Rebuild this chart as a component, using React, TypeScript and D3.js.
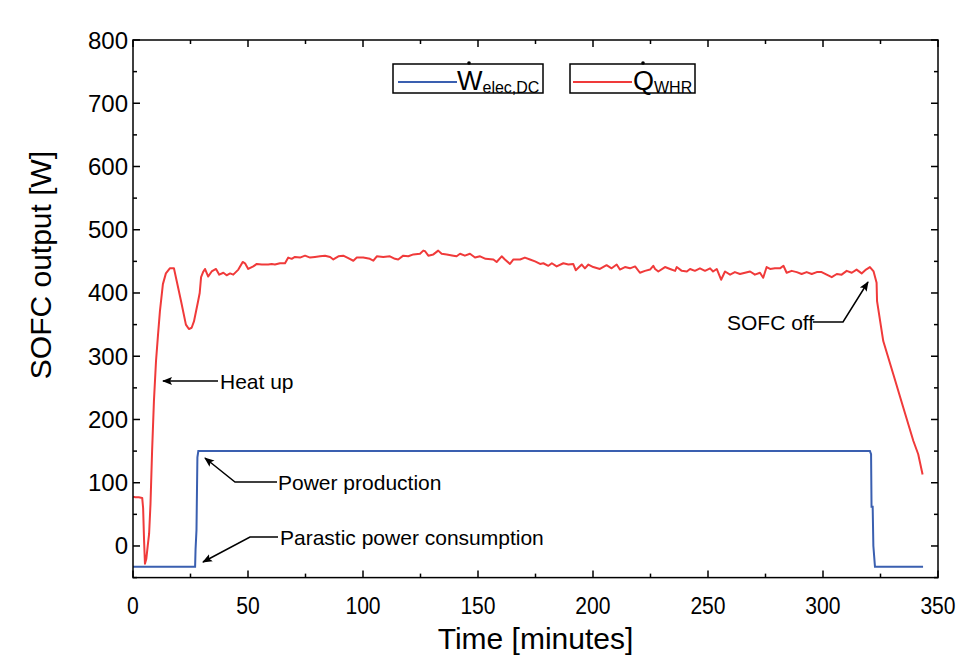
import React from 'react';
import * as d3 from 'd3';

// time [min], W
const qWhr: [number, number][] = [
  [0, 78], [1, 77], [2.5, 77], [4, 76], [4.4, 60], [4.8, 10], [5.2, -28], [5.8, -20], [6.4, 0],
  [7, 19], [7.6, 66], [8.3, 150], [9.1, 229], [10, 292], [10.9, 335], [11.7, 371], [13, 414],
  [14.3, 431], [16, 439], [17.8, 439], [19, 419], [20.9, 387], [23, 350], [24.3, 343], [25.5, 345],
  [26.5, 355], [28.3, 387], [29, 400], [29.6, 425], [30.6, 434], [31.3, 438], [32.7, 426], [34.2, 434],
  [36.1, 438], [37.5, 429], [39.3, 432], [40.7, 428], [42.2, 431], [43.6, 429], [45.8, 437], [47.7, 449],
  [48.7, 447], [50.1, 438], [52.3, 442], [53.8, 446], [56, 445], [58.8, 445], [60.3, 446], [61.7, 445],
  [63.9, 447], [66.1, 447], [67.5, 456], [69, 454], [70.4, 457], [72.6, 456], [74.8, 459], [77, 456],
  [79.1, 457], [81.3, 458], [83.5, 459], [85.7, 457], [87.1, 453], [89.3, 458], [91.4, 459], [93.6, 455],
  [95.8, 451], [97.3, 456], [100.1, 456], [103, 454], [104.5, 451], [106, 458], [108.8, 457], [111.7, 458],
  [113.9, 454], [115.3, 453], [117.5, 459], [119.7, 458], [121.9, 461], [124.8, 462], [126.2, 467],
  [127, 466], [128.4, 459], [130.6, 461], [132.7, 467], [134.2, 462], [136.4, 461], [139.3, 459],
  [140.7, 458], [142.2, 462], [144.3, 459], [146.5, 462], [148.7, 456], [150.9, 458], [153.3, 454],
  [156.7, 453], [158.1, 449], [160.3, 458], [161.7, 453], [163.9, 446], [165.4, 453], [168.3, 453],
  [170.4, 456], [172.6, 453], [174.8, 450], [177, 446], [178.4, 447], [180.6, 443], [182.1, 447],
  [184.2, 442], [187.1, 447], [189.3, 445], [191.4, 446], [192.5, 436], [195.1, 445], [196.5, 439],
  [198, 445], [200.1, 441], [203, 438], [205.9, 444], [208.1, 439], [210.3, 445], [211.7, 437],
  [213.9, 441], [216.1, 439], [218.3, 442], [220.4, 432], [222.6, 435], [224.8, 437], [226.2, 443],
  [227, 438], [228.4, 434], [231.3, 441], [233.5, 438], [235.7, 435], [236.4, 441], [238.6, 435],
  [240.8, 434], [242.2, 438], [244.3, 435], [246.5, 439], [248.7, 435], [250.9, 439], [252.2, 434],
  [253.8, 438], [255.7, 421], [257.4, 434], [259.6, 429], [261.7, 433], [263.9, 430], [266.1, 432],
  [268.3, 434], [270.4, 429], [272.6, 432], [274, 424], [275.5, 441], [277, 438], [279.1, 439],
  [281.3, 439], [282.8, 443], [284.2, 432], [286.4, 435], [288.6, 433], [290.7, 430], [292.9, 433],
  [295.1, 430], [297.3, 433], [299.4, 433], [301.6, 429], [303.8, 425], [306, 430], [308.1, 429],
  [310.3, 435], [312.5, 432], [314.6, 437], [316.8, 431], [318.7, 437], [320.4, 441], [322, 434],
  [323.3, 416], [323.5, 387], [326.2, 324], [330.6, 271], [334.9, 219], [339.3, 166], [341.4, 145],
  [343.3, 113],
];

const wElec: [number, number][] = [
  [0, -33], [27, -33], [27.2, -5], [27.6, 25], [28.0, 140], [28.4, 150], [320.4, 150], [320.9, 145],
  [321.1, 62], [321.6, 62], [321.9, 0], [322.6, -33], [343.5, -33],
];

const xMajor = [0, 50, 100, 150, 200, 250, 300, 350];
const xMinor = [25, 75, 125, 175, 225, 275, 325];
const yMajor = [0, 100, 200, 300, 400, 500, 600, 700, 800];
const yMinor = [-50, 50, 150, 250, 350, 450, 550, 650, 750];

const FONT = '"Liberation Sans", Arial, sans-serif';
const BLUE = '#3a5fb0';
const RED = '#f03a3a';

export default function App() {
  const W = 958, H = 655;
  const left = 133, right = 938, top = 40, bottom = 577.6;
  const x = d3.scaleLinear().domain([0, 350]).range([left, right]);
  const y = d3.scaleLinear().domain([-50, 800]).range([bottom, top]);
  const line = d3.line<[number, number]>().x(d => x(d[0])).y(d => y(d[1]));

  const arrow = (pts: [number, number][], key: string) => (
    <polyline key={key} points={pts.map(p => p.join(',')).join(' ')} fill="none" stroke="#000" strokeWidth={1.5} markerEnd="url(#ah)" />
  );

  return (
    <svg width={W} height={H} style={{ position: 'absolute', left: 0, top: 0, background: '#fff' }} fontFamily={FONT}>
      <defs>
        <marker id="ah" viewBox="0 0 10 10" refX="9" refY="5" markerWidth="10" markerHeight="10" orient="auto" markerUnits="userSpaceOnUse">
          <path d="M0,1 L10,5 L0,9 L2,5 Z" fill="#000" />
        </marker>
      </defs>
      <rect x={0} y={0} width={W} height={H} fill="#fff" />

      {/* curves */}
      <path d={line(qWhr) || ''} fill="none" stroke={RED} strokeWidth={2} strokeLinejoin="round" />
      <path d={line(wElec) || ''} fill="none" stroke={BLUE} strokeWidth={2} />

      {/* frame */}
      <rect x={left} y={top} width={right - left} height={bottom - top} fill="none" stroke="#000" strokeWidth={1.5} />

      {/* ticks, inward on all sides */}
      {xMajor.map(v => (
        <g key={'xM' + v}>
          <line x1={x(v)} x2={x(v)} y1={bottom} y2={bottom - 7} stroke="#000" strokeWidth={1.5} />
          <line x1={x(v)} x2={x(v)} y1={top} y2={top + 7} stroke="#000" strokeWidth={1.5} />
          <text x={x(v)} y={614} fontSize={24} textAnchor="middle" transform={`translate(${x(v)},0) scale(0.88,1) translate(${-x(v)},0)`}>{v}</text>
        </g>
      ))}
      {xMinor.map(v => (
        <g key={'xm' + v}>
          <line x1={x(v)} x2={x(v)} y1={bottom} y2={bottom - 4} stroke="#000" strokeWidth={1.5} />
          <line x1={x(v)} x2={x(v)} y1={top} y2={top + 4} stroke="#000" strokeWidth={1.5} />
        </g>
      ))}
      {yMajor.map(v => (
        <g key={'yM' + v}>
          <line x1={left} x2={left + 7} y1={y(v)} y2={y(v)} stroke="#000" strokeWidth={1.5} />
          <line x1={right} x2={right - 7} y1={y(v)} y2={y(v)} stroke="#000" strokeWidth={1.5} />
          <text x={128} y={y(v) + 8.5} fontSize={24} textAnchor="end">{v}</text>
        </g>
      ))}
      {yMinor.map(v => (
        <g key={'ym' + v}>
          <line x1={left} x2={left + 4} y1={y(v)} y2={y(v)} stroke="#000" strokeWidth={1.5} />
          <line x1={right} x2={right - 4} y1={y(v)} y2={y(v)} stroke="#000" strokeWidth={1.5} />
        </g>
      ))}

      {/* axis titles */}
      <text x={(left + right) / 2} y={649} fontSize={30} textAnchor="middle">Time [minutes]</text>
      <text transform="translate(51,265) rotate(-90)" fontSize={30} textAnchor="middle">SOFC output [W]</text>

      {/* legend */}
      <rect x={393} y={64} width={150} height={29} fill="#fff" stroke="#000" strokeWidth={1.5} />
      <line x1={398} x2={457} y1={82} y2={82} stroke={BLUE} strokeWidth={2} />
      <text x={457} y={90} fontSize={27}>W<tspan fontSize={16} dy={3}>elec,DC</tspan></text>
      <circle cx={469} cy={63} r={1.8} fill="#000" />
      <rect x={570} y={64} width={125} height={29} fill="#fff" stroke="#000" strokeWidth={1.5} />
      <line x1={573} x2={632} y1={82} y2={82} stroke={RED} strokeWidth={2} />
      <text x={633} y={90} fontSize={27}>Q<tspan fontSize={16} dy={3}>WHR</tspan></text>
      <circle cx={643} cy={63} r={1.8} fill="#000" />

      {/* annotations */}
      {arrow([[218, 381], [163, 381]], 'heat')}
      <text x={220} y={389} fontSize={21}>Heat up</text>
      {arrow([[277, 482], [235, 482], [205, 458]], 'pp')}
      <text x={278} y={490} fontSize={21}>Power production</text>
      {arrow([[278, 537], [250, 537], [203, 562]], 'par')}
      <text x={280} y={545} fontSize={21}>Parastic power consumption</text>
      {arrow([[813, 322], [843, 322], [868, 282]], 'off')}
      <text x={727} y={330} fontSize={21}>SOFC off</text>
    </svg>
  );
}
